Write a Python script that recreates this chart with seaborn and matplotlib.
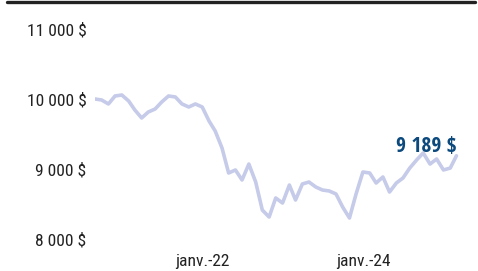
import matplotlib
matplotlib.use("Agg")
import matplotlib.pyplot as plt
import matplotlib.dates as mdates
import matplotlib.ticker as mticker
from matplotlib import font_manager as fm
import seaborn as sns
import pandas as pd
from matplotlib.lines import Line2D

dates = pd.date_range("2020-09-01", "2025-03-01", freq="MS")
values = [10000, 9986, 9929, 10043, 10057, 9971, 9843, 9729, 9814, 9857,
          9957, 10043, 10029, 9929, 9886, 9929, 9886, 9686, 9543, 9300,
          8943, 8986, 8843, 9071, 8814, 8414, 8314, 8586, 8514, 8771,
          8557, 8786, 8814, 8743, 8700, 8686, 8643, 8457, 8300, 8643,
          8957, 8943, 8800, 8886, 8671, 8800, 8871, 9014, 9129, 9229,
          9071, 9143, 8986, 9014, 9189]
y_ticks = [8000, 9000, 10000, 11000]
x_tick_dates = ["2022-01-01", "2024-01-01"]
x_tick_labels = ["janv.-22", "janv.-24"]
final_label = "9 189 $"

df = pd.DataFrame({"date": dates, "value": values})

sns.set_theme(style="white")
plt.rcParams["font.family"] = ["Liberation Sans", "DejaVu Sans"]


def pick_condensed(bold):
    cands = []
    for f in fm.fontManager.ttflist:
        narrow = ("Narrow" in f.name or "Condensed" in f.name
                  or str(f.stretch) in ("condensed", "semi-condensed", "500", "375", "extra-condensed")
                  or "Condensed" in f.fname or "Narrow" in f.fname)
        if not narrow or f.style != "normal":
            continue
        w = f.weight if isinstance(f.weight, int) else (700 if "bold" in str(f.weight) else 400)
        if bold and w < 600:
            continue
        if not bold and w >= 600:
            continue
        if not bold and w < 350:
            continue
        rank = 0 if "Liberation" in f.name else (1 if "Open" in f.name else (2 if "Roboto" in f.name else 3))
        cands.append((rank, f.fname))
    if cands:
        cands.sort()
        return fm.FontProperties(fname=cands[0][1]), True
    return fm.FontProperties(family="Liberation Sans",
                             weight="bold" if bold else "normal"), False


reg_fp, reg_narrow = pick_condensed(False)
bold_fp, bold_narrow = pick_condensed(True)

W, H = 478, 271
fig = plt.figure(figsize=(W / 100, H / 100), dpi=100)
ax_left, ax_right, ax_top, ax_bottom = 95, 470, 20, 250
ax = fig.add_axes([ax_left / W, 1 - ax_bottom / H,
                   (ax_right - ax_left) / W, (ax_bottom - ax_top) / H])

sns.lineplot(data=df, x="date", y="value", ax=ax, color="#c5cbe8",
             linewidth=2.6, solid_joinstyle="round")

px_per_day = 6.7 * 12 / 365.25
x0 = mdates.date2num(pd.Timestamp("2020-09-01"))
ax.set_xlim(x0, x0 + (ax_right - ax_left) / px_per_day)
ax.set_ylim(10000 - (ax_bottom - 99) * 1000 / 70, 10000 + (99 - ax_top) * 1000 / 70)

ax.set_yticks(y_ticks)
ax.yaxis.set_major_formatter(mticker.FuncFormatter(
    lambda v, p: f"{int(v):,}".replace(",", " ") + " $"))
ax.set_xticks([mdates.date2num(pd.Timestamp(d)) for d in x_tick_dates])
ax.set_xticklabels(x_tick_labels)
ax.tick_params(length=0)
lab_size = 12.6 if reg_narrow else 9.8
for t in ax.get_yticklabels() + ax.get_xticklabels():
    t.set_fontproperties(reg_fp)
    t.set_fontsize(lab_size)
    t.set_color("#222222")
ax.tick_params(axis="y", pad=6)
ax.tick_params(axis="x", pad=3)
ax.set_xlabel("")
ax.set_ylabel("")
for s in ax.spines.values():
    s.set_visible(False)
ax.grid(False)

ann = ax.annotate(final_label, xy=(df["date"].iloc[-1], values[-1]),
                  xytext=(0, 3), textcoords="offset points", ha="right", va="baseline",
                  color="#0c4a7e")
ann.set_fontproperties(bold_fp)
ann.set_fontsize(15.5 if bold_narrow else 12)

fig.add_artist(Line2D([7 / W, 475 / W], [1 - 2 / H, 1 - 2 / H],
                      transform=fig.transFigure, color="#222222", linewidth=2.4))

fig.savefig("out.png", dpi=100)
